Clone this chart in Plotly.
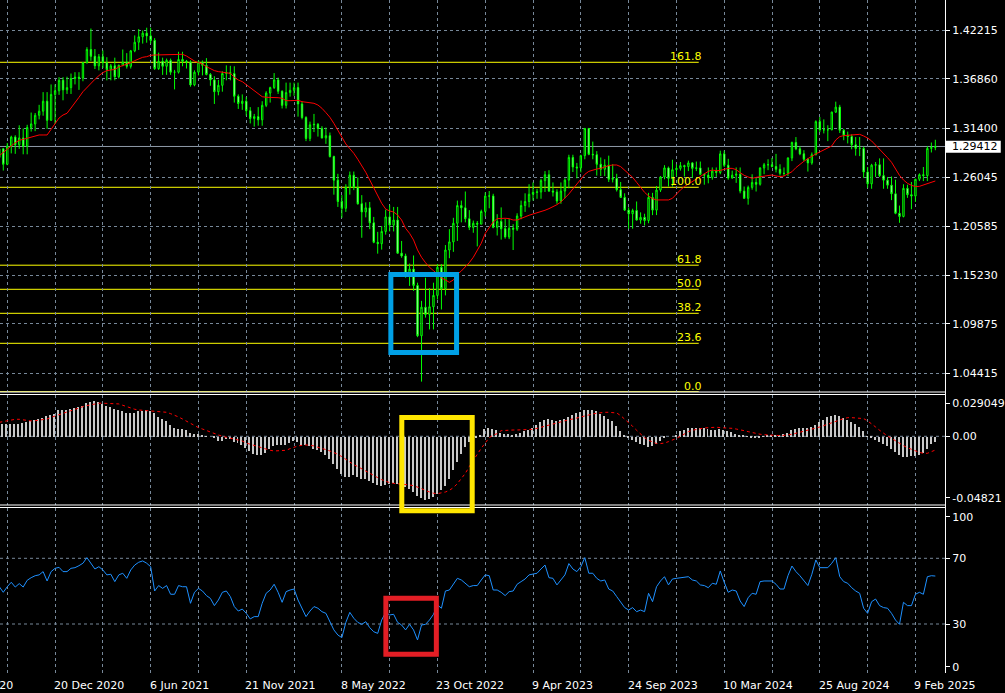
import plotly.graph_objects as go

# ---------------- data (weekly GBPUSD-style bars) ----------------
open_ = [1.2820,1.2915,1.2745,1.2945,1.3045,1.2960,1.3035,1.2945,1.3150,1.3190,
1.3285,1.3330,1.3440,1.3230,1.3515,1.3555,1.3670,1.3565,1.3590,1.3690,
1.3705,1.3695,1.3865,1.4010,1.3935,1.3830,1.3930,1.3865,1.3790,1.3830,
1.3710,1.3835,1.3870,1.3825,1.3995,1.4090,1.4150,1.4190,1.4160,1.4110,
1.3800,1.3880,1.3825,1.3890,1.3760,1.3760,1.3900,1.3880,1.3870,1.3620,
1.3760,1.3870,1.3835,1.3735,1.3675,1.3545,1.3615,1.3745,1.3755,1.3745,
1.3495,1.3415,1.3440,1.3335,1.3250,1.3270,1.3235,1.3395,1.3530,1.3590,
1.3675,1.3550,1.3395,1.3535,1.3560,1.3590,1.3410,1.3260,1.3030,1.3180,
1.3185,1.3140,1.3035,1.3060,1.2830,1.2570,1.2335,1.2260,1.2490,1.2625,
1.2490,1.2310,1.2220,1.2265,1.2100,1.1885,1.1870,1.2005,1.2165,1.2075,
1.2130,1.1765,1.1735,1.1510,1.1590,1.1410,1.0855,1.1170,1.1090,1.1175,
1.1300,1.1610,1.1375,1.1800,1.1890,1.2095,1.2290,1.2265,1.2145,1.2050,
1.2095,1.2085,1.2225,1.2395,1.2395,1.2050,1.2115,1.2035,1.1945,1.2040,
1.2030,1.2175,1.2290,1.2335,1.2415,1.2435,1.2440,1.2565,1.2630,1.2450,
1.2440,1.2340,1.2450,1.2570,1.2820,1.2715,1.2705,1.2840,1.3140,1.2855,
1.2850,1.2745,1.2690,1.2735,1.2580,1.2590,1.2465,1.2380,1.2240,1.2200,
1.2235,1.2130,1.2160,1.2125,1.2380,1.2240,1.2460,1.2605,1.2705,1.2590,
1.2685,1.2700,1.2730,1.2720,1.2760,1.2700,1.2705,1.2635,1.2625,1.2600,
1.2670,1.2655,1.2860,1.2735,1.2595,1.2625,1.2635,1.2450,1.2370,1.2490,
1.2545,1.2525,1.2705,1.2740,1.2740,1.2720,1.2690,1.2645,1.2645,1.2815,
1.2985,1.2915,1.2860,1.2800,1.2760,1.2850,1.3215,1.3125,1.3125,1.3125,
1.3320,1.3375,1.3120,1.3065,1.3050,1.2960,1.2920,1.2920,1.2660,1.2530,
1.2735,1.2740,1.2620,1.2570,1.2515,1.2420,1.2205,1.2170,1.2480,1.2410,
1.2395,1.2580,1.2630,1.2620,1.2920,1.2930]

high_ = [1.3005,1.2925,1.2980,1.3060,1.3065,1.3175,1.3140,1.3180,1.3315,1.3310,
1.3400,1.3540,1.3540,1.3625,1.3625,1.3705,1.3705,1.3710,1.3745,1.3760,
1.3760,1.3870,1.4035,1.4241,1.4015,1.3960,1.4000,1.3925,1.3850,1.3920,
1.3845,1.4010,1.3970,1.4005,1.4165,1.4235,1.4220,1.4250,1.4250,1.4135,
1.3975,1.3920,1.3910,1.3910,1.3785,1.3985,1.3985,1.3895,1.3890,1.3780,
1.3890,1.3890,1.3915,1.3750,1.3715,1.3675,1.3770,1.3835,1.3830,1.3825,
1.3515,1.3515,1.3485,1.3375,1.3300,1.3375,1.3440,1.3550,1.3600,1.3750,
1.3700,1.3560,1.3645,1.3645,1.3645,1.3645,1.3440,1.3275,1.3215,1.3300,
1.3200,1.3165,1.3150,1.3095,1.2840,1.2640,1.2405,1.2525,1.2665,1.2665,
1.2600,1.2405,1.2325,1.2330,1.2165,1.2000,1.2065,1.2245,1.2295,1.2275,
1.2275,1.1900,1.1760,1.1650,1.1740,1.1440,1.1240,1.1495,1.1380,1.1440,
1.1645,1.1645,1.1855,1.2030,1.2155,1.2345,1.2345,1.2445,1.2240,1.2125,
1.2120,1.2245,1.2435,1.2450,1.2420,1.2195,1.2270,1.2145,1.2145,1.2085,
1.2205,1.2345,1.2425,1.2525,1.2545,1.2475,1.2585,1.2670,1.2680,1.2545,
1.2470,1.2545,1.2590,1.2850,1.2850,1.2760,1.2850,1.3145,1.3145,1.2995,
1.2890,1.2820,1.2800,1.2840,1.2745,1.2640,1.2550,1.2425,1.2270,1.2255,
1.2335,1.2215,1.2200,1.2430,1.2430,1.2505,1.2615,1.2735,1.2720,1.2795,
1.2745,1.2770,1.2740,1.2785,1.2770,1.2775,1.2775,1.2645,1.2710,1.2710,
1.2710,1.2895,1.2895,1.2805,1.2675,1.2710,1.2710,1.2500,1.2510,1.2635,
1.2595,1.2710,1.2760,1.2800,1.2815,1.2860,1.2745,1.2710,1.2820,1.2995,
1.3045,1.2945,1.2900,1.2815,1.2875,1.3230,1.3265,1.3240,1.3175,1.3325,
1.3435,1.3400,1.3135,1.3105,1.3075,1.3045,1.3045,1.2940,1.2715,1.2750,
1.2770,1.2810,1.2810,1.2605,1.2610,1.2575,1.2290,1.2525,1.2520,1.2550,
1.2585,1.2645,1.2715,1.2945,1.2985,1.3015]

low_ = [1.2760,1.2676,1.2735,1.2865,1.2860,1.2915,1.2855,1.2855,1.3105,1.3110,
1.3240,1.3280,1.3135,1.3225,1.3190,1.3510,1.3450,1.3520,1.3520,1.3625,
1.3565,1.3660,1.3855,1.3885,1.3795,1.3780,1.3805,1.3670,1.3670,1.3670,
1.3690,1.3825,1.3800,1.3800,1.3980,1.4005,1.4075,1.4085,1.4075,1.3785,
1.3785,1.3730,1.3730,1.3730,1.3570,1.3745,1.3825,1.3800,1.3600,1.3605,
1.3725,1.3725,1.3725,1.3610,1.3410,1.3505,1.3545,1.3670,1.3670,1.3425,
1.3355,1.3345,1.3280,1.3195,1.3160,1.3170,1.3170,1.3375,1.3425,1.3575,
1.3520,1.3360,1.3360,1.3490,1.3500,1.3270,1.3240,1.3000,1.3000,1.3100,
1.3050,1.3030,1.2970,1.2820,1.2410,1.2275,1.2155,1.2220,1.2410,1.2460,
1.2300,1.1935,1.2160,1.2030,1.1875,1.1760,1.1805,1.1970,1.2005,1.2005,
1.1760,1.1715,1.1495,1.1405,1.1350,1.0840,1.0350,1.1055,1.0925,1.0925,
1.1255,1.1145,1.1300,1.1710,1.1780,1.1900,1.2105,1.2105,1.2020,1.1990,
1.1840,1.2085,1.2170,1.2260,1.2040,1.1960,1.1915,1.1925,1.1920,1.1800,
1.2010,1.2140,1.2220,1.2270,1.2345,1.2365,1.2365,1.2440,1.2440,1.2390,
1.2310,1.2310,1.2370,1.2480,1.2660,1.2590,1.2655,1.2800,1.2845,1.2800,
1.2620,1.2615,1.2615,1.2550,1.2545,1.2445,1.2375,1.2230,1.2035,1.2035,
1.2125,1.2090,1.2070,1.2095,1.2185,1.2185,1.2440,1.2580,1.2500,1.2500,
1.2610,1.2675,1.2610,1.2670,1.2595,1.2670,1.2625,1.2520,1.2535,1.2575,
1.2605,1.2635,1.2715,1.2575,1.2585,1.2540,1.2425,1.2365,1.2300,1.2465,
1.2445,1.2510,1.2635,1.2680,1.2710,1.2655,1.2620,1.2615,1.2615,1.2780,
1.2900,1.2845,1.2780,1.2665,1.2740,1.2845,1.3100,1.3085,1.3000,1.3120,
1.3310,1.3090,1.3010,1.2975,1.2910,1.2840,1.2835,1.2595,1.2485,1.2475,
1.2605,1.2605,1.2475,1.2475,1.2350,1.2195,1.2100,1.2160,1.2375,1.2250,
1.2330,1.2560,1.2560,1.2560,1.2875,1.2900]

close_ = [1.2915,1.2745,1.2945,1.3045,1.2960,1.3035,1.2945,1.3150,1.3190,1.3285,
1.3330,1.3440,1.3230,1.3515,1.3555,1.3670,1.3565,1.3590,1.3690,1.3705,
1.3695,1.3865,1.4010,1.3935,1.3830,1.3930,1.3865,1.3790,1.3830,1.3710,
1.3835,1.3870,1.3825,1.3995,1.4090,1.4150,1.4190,1.4160,1.4110,1.3800,
1.3880,1.3825,1.3890,1.3760,1.3760,1.3900,1.3880,1.3870,1.3620,1.3760,
1.3870,1.3835,1.3735,1.3675,1.3545,1.3615,1.3745,1.3755,1.3745,1.3495,
1.3415,1.3440,1.3335,1.3250,1.3270,1.3235,1.3395,1.3530,1.3590,1.3675,
1.3550,1.3395,1.3535,1.3560,1.3590,1.3410,1.3260,1.3030,1.3180,1.3185,
1.3140,1.3035,1.3060,1.2830,1.2570,1.2335,1.2260,1.2490,1.2625,1.2490,
1.2310,1.2220,1.2265,1.2100,1.1885,1.1870,1.2005,1.2165,1.2075,1.2130,
1.1765,1.1735,1.1510,1.1590,1.1410,1.0855,1.1170,1.1090,1.1175,1.1300,
1.1610,1.1375,1.1800,1.1890,1.2095,1.2290,1.2265,1.2145,1.2050,1.2095,
1.2085,1.2225,1.2395,1.2395,1.2050,1.2115,1.2035,1.1945,1.2040,1.2030,
1.2175,1.2290,1.2335,1.2415,1.2435,1.2440,1.2565,1.2630,1.2450,1.2440,
1.2340,1.2450,1.2570,1.2820,1.2715,1.2705,1.2840,1.3140,1.2855,1.2850,
1.2745,1.2690,1.2735,1.2580,1.2590,1.2465,1.2380,1.2240,1.2200,1.2235,
1.2130,1.2160,1.2125,1.2380,1.2240,1.2460,1.2605,1.2705,1.2590,1.2685,
1.2700,1.2730,1.2720,1.2760,1.2700,1.2705,1.2635,1.2625,1.2600,1.2670,
1.2655,1.2860,1.2735,1.2595,1.2625,1.2635,1.2450,1.2370,1.2490,1.2545,
1.2525,1.2705,1.2740,1.2740,1.2720,1.2690,1.2645,1.2645,1.2815,1.2985,
1.2915,1.2860,1.2800,1.2760,1.2850,1.3215,1.3125,1.3125,1.3125,1.3320,
1.3375,1.3120,1.3065,1.3050,1.2960,1.2920,1.2920,1.2660,1.2530,1.2735,
1.2740,1.2620,1.2570,1.2515,1.2420,1.2205,1.2170,1.2480,1.2410,1.2395,
1.2580,1.2630,1.2620,1.2920,1.2930,1.2941]

ma_line = [1.2840,1.2873,1.2910,1.2947,1.2983,1.3009,1.3020,1.3031,1.3042,1.3057,
1.3068,1.3068,1.3068,1.3130,1.3189,1.3255,1.3288,1.3307,1.3365,1.3431,
1.3483,1.3545,1.3593,1.3641,1.3681,1.3722,1.3755,1.3777,1.3784,1.3791,
1.3817,1.3832,1.3847,1.3865,1.3887,1.3905,1.3924,1.3931,1.3946,1.3949,
1.3949,1.3949,1.3949,1.3957,1.3949,1.3953,1.3957,1.3938,1.3909,1.3883,
1.3865,1.3850,1.3821,1.3799,1.3777,1.3766,1.3762,1.3755,1.3747,1.3703,
1.3674,1.3656,1.3623,1.3593,1.3560,1.3527,1.3490,1.3483,1.3483,1.3483,
1.3479,1.3472,1.3446,1.3446,1.3450,1.3450,1.3435,1.3428,1.3428,1.3417,
1.3398,1.3362,1.3314,1.3263,1.3196,1.3123,1.3042,1.2969,1.2917,1.2866,
1.2800,1.2730,1.2657,1.2572,1.2491,1.2396,1.2315,1.2252,1.2230,1.2219,
1.2186,1.2131,1.2039,1.1984,1.1911,1.1801,1.1720,1.1661,1.1610,1.1573,
1.1533,1.1492,1.1470,1.1444,1.1470,1.1533,1.1569,1.1610,1.1661,1.1720,
1.1793,1.1874,1.1984,1.2043,1.2109,1.2146,1.2150,1.2150,1.2146,1.2131,
1.2131,1.2150,1.2164,1.2183,1.2197,1.2208,1.2227,1.2238,1.2256,1.2274,
1.2300,1.2330,1.2370,1.2418,1.2473,1.2524,1.2579,1.2634,1.2667,1.2682,
1.2693,1.2700,1.2719,1.2730,1.2737,1.2737,1.2719,1.2682,1.2645,1.2601,
1.2546,1.2491,1.2436,1.2396,1.2366,1.2352,1.2352,1.2352,1.2352,1.2370,
1.2418,1.2462,1.2499,1.2528,1.2553,1.2587,1.2616,1.2645,1.2667,1.2682,
1.2674,1.2678,1.2693,1.2700,1.2700,1.2686,1.2653,1.2623,1.2605,1.2590,
1.2601,1.2609,1.2616,1.2623,1.2627,1.2616,1.2609,1.2616,1.2638,1.2663,
1.2708,1.2745,1.2778,1.2807,1.2837,1.2859,1.2881,1.2903,1.2917,1.2947,
1.3013,1.3050,1.3061,1.3064,1.3068,1.3072,1.3075,1.3057,1.3035,1.3002,
1.2958,1.2914,1.2866,1.2818,1.2767,1.2690,1.2623,1.2572,1.2535,1.2513,
1.2499,1.2502,1.2517,1.2531,1.2542,1.2561]

macd_hist = [0.0095,0.0095,0.0095,0.0095,0.0095,0.0095,0.0097,0.0107,0.0112,0.0119,
0.0131,0.0136,0.0151,0.0160,0.0168,0.0192,0.0199,0.0199,0.0204,0.0209,
0.0216,0.0224,0.0248,0.0253,0.0258,0.0253,0.0241,0.0224,0.0216,0.0204,
0.0192,0.0185,0.0175,0.0170,0.0175,0.0185,0.0190,0.0192,0.0190,0.0175,
0.0146,0.0131,0.0112,0.0087,0.0063,0.0058,0.0058,0.0053,0.0029,0.0022,
0.0017,0.0007,0.0002,0.0000,-0.0007,-0.0027,-0.0027,-0.0019,-0.0015,-0.0039,
-0.0046,-0.0063,-0.0083,-0.0107,-0.0124,-0.0131,-0.0136,-0.0117,-0.0092,-0.0068,
-0.0063,-0.0063,-0.0058,-0.0044,-0.0029,-0.0039,-0.0058,-0.0063,-0.0068,-0.0087,
-0.0095,-0.0112,-0.0131,-0.0165,-0.0197,-0.0238,-0.0270,-0.0292,-0.0294,-0.0282,
-0.0294,-0.0306,-0.0311,-0.0321,-0.0335,-0.0350,-0.0355,-0.0350,-0.0343,-0.0335,
-0.0343,-0.0355,-0.0367,-0.0379,-0.0403,-0.0432,-0.0447,-0.0459,-0.0452,-0.0440,
-0.0418,-0.0391,-0.0355,-0.0306,-0.0245,-0.0180,-0.0124,-0.0075,-0.0039,-0.0019,
-0.0005,0.0012,0.0058,0.0066,0.0058,0.0049,0.0029,0.0022,0.0022,0.0015,
0.0022,0.0029,0.0039,0.0049,0.0063,0.0087,0.0107,0.0126,0.0131,0.0121,
0.0112,0.0121,0.0131,0.0146,0.0160,0.0170,0.0180,0.0192,0.0192,0.0192,
0.0185,0.0165,0.0151,0.0131,0.0112,0.0078,0.0039,0.0010,-0.0007,-0.0024,
-0.0039,-0.0053,-0.0063,-0.0075,-0.0068,-0.0051,-0.0029,-0.0010,0.0000,0.0000,
0.0015,0.0039,0.0053,0.0063,0.0066,0.0066,0.0063,0.0063,0.0058,0.0053,
0.0053,0.0058,0.0053,0.0044,0.0034,0.0024,0.0015,0.0007,0.0002,-0.0005,
-0.0010,-0.0002,0.0005,0.0007,0.0007,0.0010,0.0012,0.0017,0.0029,0.0046,
0.0058,0.0063,0.0063,0.0066,0.0070,0.0087,0.0107,0.0126,0.0141,0.0151,
0.0160,0.0151,0.0136,0.0121,0.0107,0.0092,0.0068,0.0039,0.0005,-0.0010,
-0.0024,-0.0039,-0.0053,-0.0068,-0.0087,-0.0112,-0.0136,-0.0146,-0.0146,-0.0141,
-0.0141,-0.0131,-0.0117,-0.0087,-0.0051,-0.0039]

macd_signal = [0.0102,0.0107,0.0117,0.0121,0.0124,0.0124,0.0119,0.0112,0.0112,0.0114,
0.0117,0.0121,0.0126,0.0138,0.0148,0.0158,0.0170,0.0180,0.0190,0.0199,
0.0207,0.0216,0.0224,0.0231,0.0236,0.0241,0.0241,0.0241,0.0241,0.0241,
0.0236,0.0226,0.0216,0.0207,0.0197,0.0192,0.0190,0.0187,0.0187,0.0185,
0.0180,0.0177,0.0175,0.0165,0.0155,0.0141,0.0126,0.0109,0.0092,0.0078,
0.0063,0.0053,0.0041,0.0029,0.0019,0.0010,0.0000,-0.0007,-0.0015,-0.0019,
-0.0024,-0.0034,-0.0049,-0.0058,-0.0068,-0.0078,-0.0087,-0.0095,-0.0102,-0.0107,
-0.0107,-0.0107,-0.0102,-0.0090,-0.0080,-0.0070,-0.0066,-0.0063,-0.0066,-0.0070,
-0.0080,-0.0087,-0.0097,-0.0107,-0.0117,-0.0131,-0.0148,-0.0168,-0.0190,-0.0207,
-0.0221,-0.0238,-0.0255,-0.0270,-0.0287,-0.0301,-0.0316,-0.0328,-0.0338,-0.0343,
-0.0345,-0.0347,-0.0350,-0.0355,-0.0360,-0.0369,-0.0381,-0.0396,-0.0408,-0.0415,
-0.0418,-0.0413,-0.0406,-0.0394,-0.0374,-0.0345,-0.0306,-0.0270,-0.0221,-0.0172,
-0.0131,-0.0087,-0.0044,-0.0010,0.0010,0.0019,0.0041,0.0044,0.0046,0.0046,
0.0046,0.0046,0.0046,0.0049,0.0051,0.0058,0.0066,0.0075,0.0083,0.0092,
0.0102,0.0109,0.0117,0.0121,0.0126,0.0134,0.0141,0.0148,0.0155,0.0163,
0.0168,0.0173,0.0175,0.0175,0.0175,0.0170,0.0151,0.0126,0.0102,0.0073,
0.0044,0.0015,-0.0010,-0.0029,-0.0044,-0.0053,-0.0053,-0.0049,-0.0039,-0.0029,
-0.0015,0.0000,0.0019,0.0034,0.0044,0.0051,0.0058,0.0061,0.0063,0.0066,
0.0066,0.0063,0.0063,0.0061,0.0058,0.0053,0.0049,0.0041,0.0034,0.0027,
0.0019,0.0015,0.0012,0.0010,0.0007,0.0005,0.0005,0.0007,0.0010,0.0015,
0.0022,0.0029,0.0036,0.0044,0.0051,0.0058,0.0068,0.0078,0.0087,0.0097,
0.0107,0.0119,0.0129,0.0136,0.0136,0.0134,0.0131,0.0129,0.0112,0.0092,
0.0068,0.0044,0.0022,0.0002,-0.0015,-0.0034,-0.0051,-0.0068,-0.0083,-0.0095,
-0.0107,-0.0117,-0.0124,-0.0124,-0.0112,-0.0100]

rsi_line = [52.7,49.3,52.7,55.4,52.5,54.6,52.5,56.6,58.2,59.4,
59.9,61.9,56.2,61.9,63.9,64.5,61.9,61.9,63.9,64.3,
65.5,67.0,70.4,67.0,63.5,64.9,62.9,59.9,60.3,55.8,
59.9,60.9,57.8,62.9,65.9,67.6,68.4,67.0,64.9,50.1,
53.4,51.7,53.4,48.1,48.1,53.4,52.7,52.7,42.6,49.3,
51.7,50.1,47.3,45.6,41.2,44.6,49.3,50.1,46.7,40.6,
37.9,39.1,36.5,33.1,34.5,34.5,42.6,48.7,50.7,54.2,
49.3,43.2,49.7,50.7,51.3,44.6,39.6,34.5,37.9,40.6,
39.6,37.5,36.5,31.4,26.4,23.3,21.7,31.0,37.1,33.5,
31.0,29.8,31.4,27.8,25.3,24.3,32.4,37.1,35.5,35.9,
31.0,29.4,26.4,29.8,26.4,20.3,29.4,29.8,32.4,35.9,
41.6,39.6,50.1,50.7,54.2,57.8,56.8,54.8,52.7,53.4,
53.4,56.8,59.9,59.4,50.7,50.7,49.3,47.3,49.7,50.1,
54.2,55.8,57.4,59.9,60.3,60.9,63.5,65.9,58.2,57.8,
53.8,56.8,59.9,66.8,63.5,61.9,64.9,70.4,60.9,60.9,
57.8,56.2,56.8,51.3,50.1,46.7,43.6,40.0,38.5,40.0,
37.5,38.5,37.5,48.7,43.6,52.7,56.2,58.8,53.8,57.4,
57.8,58.2,58.2,58.8,56.8,56.2,53.8,53.4,52.1,54.8,
54.2,62.3,55.4,49.3,50.7,50.1,44.0,40.6,46.0,48.7,
48.1,55.8,56.2,56.2,56.2,54.2,51.3,51.3,59.4,65.3,
61.9,59.4,56.2,53.4,60.3,69.0,64.3,64.3,64.3,67.0,
70.4,58.8,55.8,54.8,52.1,50.1,48.7,39.6,36.5,43.6,
45.2,41.2,40.0,39.6,36.5,32.4,29.8,43.2,41.2,41.2,
48.1,49.3,48.1,58.8,59.4,59.2]

bars = list(range(len(close_)))

price_ticks = [1.42215, 1.36860, 1.31400, 1.26045, 1.20585, 1.15230, 1.09875, 1.04415]
last_price = 1.29412
fib_names = ["0.0", "23.6", "38.2", "50.0", "61.8", "100.0", "161.8"]
fib_prices = [1.02389, 1.07722, 1.11028, 1.13673, 1.16329, 1.24914, 1.38689]
fib_end_bar = 175.6

grid_bars = [2, 14, 26, 38, 50, 62, 74, 86, 98, 110, 122, 134, 146, 158, 170, 182, 194, 206, 218, 230]
date_label_bars = [-10, 14, 38, 62, 86, 110, 134, 158, 182, 206, 230]
date_labels = ["5 Jul 2020", "20 Dec 2020", "6 Jun 2021", "21 Nov 2021", "8 May 2022",
               "23 Oct 2022", "9 Apr 2023", "24 Sep 2023", "10 Mar 2024", "25 Aug 2024", "9 Feb 2025"]

macd_tick_vals = [0.02405, 0.0, -0.04475]
macd_tick_text = ["0.029049", "0.00", "-0.04821"]
rsi_tick_vals = [95.33, 70, 30, 4.0]
rsi_tick_text = ["100", "70", "30", "0"]
rsi_levels = [70, 30]

# ---------------- layout geometry ----------------
W, H = 1005, 693
PR, PB = 949, 673          # plot area right / bottom in px
X_RANGE = [0.175, 237.425]

def fx(px):
    return px / PR

def fy(py):
    return (PB - py) / PB

GRID = "#778899"
DASH = "3px,3px"
FONT = "DejaVu Sans"

fig = go.Figure()

fig.add_trace(go.Candlestick(
    x=bars, open=open_, high=high_, low=low_, close=close_,
    increasing=dict(line=dict(color="#00FF00", width=1), fillcolor="#000000"),
    decreasing=dict(line=dict(color="#00FF00", width=1), fillcolor="#FFFFFF"),
    whiskerwidth=0, xaxis="x", yaxis="y", hoverinfo="skip", showlegend=False))

fig.add_trace(go.Scatter(x=bars, y=ma_line, mode="lines",
                         line=dict(color="#FF0000", width=1),
                         xaxis="x", yaxis="y", hoverinfo="skip", showlegend=False))

fig.add_trace(go.Bar(x=bars, y=macd_hist, width=0.25, offset=-0.325,
                     marker=dict(color="#C8C8C8", line=dict(width=0)),
                     xaxis="x2", yaxis="y2", hoverinfo="skip", showlegend=False))

fig.add_trace(go.Scatter(x=bars, y=macd_signal, mode="lines",
                         line=dict(color="#FF0000", width=1, dash="dot"),
                         xaxis="x2", yaxis="y2", hoverinfo="skip", showlegend=False))

fig.add_trace(go.Scatter(x=bars, y=rsi_line, mode="lines",
                         line=dict(color="#1E90FF", width=1),
                         xaxis="x3", yaxis="y3", hoverinfo="skip", showlegend=False))

xcommon = dict(range=X_RANGE, showgrid=True, gridcolor=GRID, griddash=DASH, gridwidth=1,
               tickmode="array", tickvals=grid_bars, showticklabels=False, ticks="",
               zeroline=False, showline=False, fixedrange=True)

ycommon = dict(side="right", tickmode="array",
               tickfont=dict(family=FONT, size=11, color="#FFFFFF"),
               ticks="outside", ticklen=4, tickcolor="#FFFFFF", tickwidth=1,
               zeroline=False, showline=False, fixedrange=True)

fig.update_layout(
    width=W, height=H,
    margin=dict(l=0, r=W - PR, t=0, b=H - PB),
    paper_bgcolor="#000000", plot_bgcolor="#000000",
    font=dict(family=FONT, size=11, color="#FFFFFF"),
    showlegend=False, boxgap=0.5, bargap=0,
    xaxis=dict(**xcommon, anchor="y", rangeslider=dict(visible=False)),
    xaxis2=dict(**xcommon, anchor="y2"),
    xaxis3=dict(**xcommon, anchor="y3"),
    yaxis=dict(**ycommon, anchor="x", domain=[fy(392), 1.0], range=[1.02355, 1.45554],
               tickvals=price_ticks, ticktext=[f"{v:.5f}" for v in price_ticks],
               showgrid=True, gridcolor=GRID, griddash=DASH, gridwidth=1),
    yaxis2=dict(**ycommon, anchor="x2", domain=[fy(505), fy(394.5)], range=[-0.050073, 0.030466],
                tickvals=macd_tick_vals, ticktext=macd_tick_text, showgrid=False),
    yaxis3=dict(**ycommon, anchor="x3", domain=[0.0, fy(507.5)], range=[0.17, 100.93],
                tickvals=rsi_tick_vals, ticktext=rsi_tick_text, showgrid=False),
)

shapes = []
# MACD zero line and RSI levels (dashed grid)
shapes.append(dict(type="line", xref="paper", x0=0, x1=1, yref="y2", y0=0, y1=0,
                   line=dict(color=GRID, width=1, dash=DASH), layer="below"))
for lv in rsi_levels:
    shapes.append(dict(type="line", xref="paper", x0=0, x1=1, yref="y3", y0=lv, y1=lv,
                       line=dict(color=GRID, width=1, dash=DASH), layer="below"))
# bid line
shapes.append(dict(type="line", xref="paper", x0=0, x1=1, yref="y", y0=last_price, y1=last_price,
                   line=dict(color="#8F9BA8", width=1), layer="below"))
# fibonacci levels
for p in fib_prices:
    shapes.append(dict(type="line", xref="x", x0=X_RANGE[0], x1=fib_end_bar, yref="y", y0=p, y1=p,
                       line=dict(color="#FFFF00", width=1), layer="below"))
# window borders
for py in [392, 394.5, 505, 507.5]:
    shapes.append(dict(type="line", xref="paper", x0=0, x1=1, yref="paper", y0=fy(py), y1=fy(py),
                       line=dict(color="#FFFFFF", width=1)))
shapes.append(dict(type="line", xref="paper", x0=fx(949.5), x1=fx(949.5), yref="paper", y0=0, y1=1,
                   line=dict(color="#FFFFFF", width=1)))
# current price box
shapes.append(dict(type="rect", xref="paper", x0=fx(950), x1=fx(1005), yref="paper",
                   y0=fy(152.7), y1=fy(140.7), fillcolor="#FFFFFF", line=dict(width=0)))
# highlight boxes
shapes.append(dict(type="rect", xref="paper", yref="paper",
                   x0=fx(392.5), x1=fx(458.5), y0=fy(352.5), y1=fy(274.5),
                   line=dict(color="#00A0E6", width=5)))
shapes.append(dict(type="rect", xref="paper", yref="paper",
                   x0=fx(403.5), x1=fx(474.2), y0=fy(510.8), y1=fy(417.5),
                   line=dict(color="#FFE600", width=5)))
shapes.append(dict(type="rect", xref="paper", yref="paper",
                   x0=fx(387.5), x1=fx(438.2), y0=fy(654.2), y1=fy(598.2),
                   line=dict(color="#E31E25", width=5)))
fig.update_layout(shapes=shapes)

ann = []
for name, p in zip(fib_names, fib_prices):
    ann.append(dict(xref="x", x=fib_end_bar, yref="y", y=p, text=name, showarrow=False,
                    xanchor="right", yanchor="bottom", xshift=5, yshift=-3,
                    font=dict(family=FONT, size=11, color="#FFFF00")))
span = X_RANGE[1] - X_RANGE[0]
for b, t in zip(date_label_bars, date_labels):
    ann.append(dict(xref="paper", x=(b - X_RANGE[0]) / span, yref="paper", y=fy(685.5),
                    text=t, showarrow=False, xanchor="left", yanchor="middle", xshift=-3,
                    font=dict(family=FONT, size=11, color="#FFFFFF")))
ann.append(dict(xref="paper", x=fx(954), yref="y", y=last_price, text=f"{last_price:.5f}",
                showarrow=False, xanchor="left", yanchor="middle",
                font=dict(family=FONT, size=11, color="#000000")))
fig.update_layout(annotations=ann)

fig.write_html("out.html", config={"displayModeBar": False})
